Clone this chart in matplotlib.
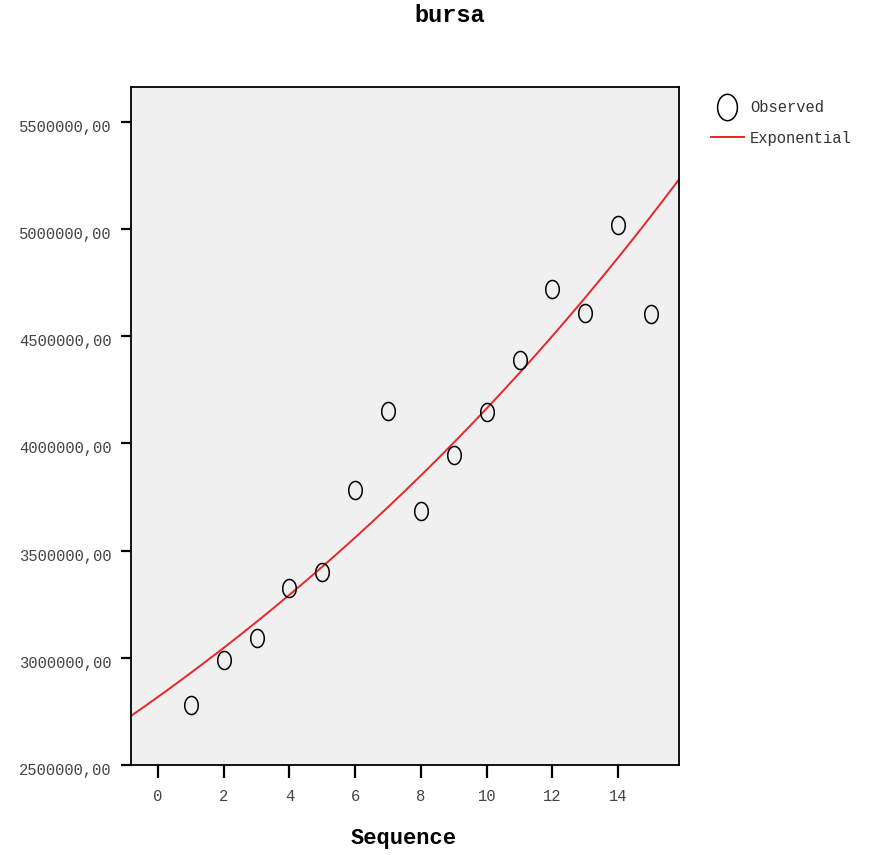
import numpy as np
import matplotlib.pyplot as plt
import matplotlib.transforms as mtransforms
from matplotlib.path import Path
from matplotlib.lines import Line2D

# observed series
seq = np.arange(1, 16)
bursa = np.array([2780000, 2990000, 3092000, 3326000, 3400000, 3783000, 4151000,
                  3685000, 3946000, 4147000, 4389000, 4720000, 4608000, 5019000,
                  4604000])

xticks = [0, 2, 4, 6, 8, 10, 12, 14]
yticks = [2500000, 3000000, 3500000, 4000000, 4500000, 5000000, 5500000]

MONO = 'Liberation Mono'

# exponential model: ln(y) = ln(b0) + b1 * t
b1, lnb0 = np.polyfit(seq, np.log(bursa), 1)
tt = np.linspace(-0.82, 15.85, 300)
fit = np.exp(lnb0) * np.exp(b1 * tt)

# tall open ellipse marker
th = np.linspace(0, 2 * np.pi, 60)
ellipse = Path(np.column_stack([0.75 * np.cos(th), np.sin(th)]), closed=True)

fig = plt.figure(figsize=(8.78, 8.55), dpi=100)
ax = fig.add_axes([131 / 878, 90 / 855, 548 / 878, 678 / 855])
ax.set_facecolor('#f0f0f0')

ax.plot(tt, fit, color='#e8262a', lw=1.4, zorder=2)
ax.plot(seq, bursa, ls='none', marker=ellipse, ms=13, mfc='none', mec='black',
        mew=1.1, zorder=3)

ax.set_xlim(-0.82, 15.85)
ax.set_ylim(2500000, 5663000)
ax.set_xticks(xticks)
ax.set_yticks(yticks)
ax.set_yticklabels(['%d,00' % v for v in yticks])

for s in ax.spines.values():
    s.set_linewidth(1.3)
ax.tick_params(axis='y', length=7, width=1.6, pad=7, labelsize=11.2,
               labelcolor='#444444')
ax.tick_params(axis='x', length=9.5, width=1.6, pad=8, labelsize=11.2,
               labelcolor='#444444')
for lab in ax.get_xticklabels() + ax.get_yticklabels():
    lab.set_family(MONO)

# y labels sit a little below their ticks
shift = mtransforms.ScaledTranslation(0, -4 / 100, fig.dpi_scale_trans)
for lab in ax.get_yticklabels():
    lab.set_transform(lab.get_transform() + shift)

fig.text(450 / 878, 1 - 15 / 855, 'bursa', family=MONO, weight='bold',
         fontsize=17, ha='center', va='center')
fig.text(404 / 878, 1 - 838 / 855, 'Sequence', family=MONO, weight='bold',
         fontsize=15.8, ha='center', va='center')

handles = [
    Line2D([], [], ls='none', marker=ellipse, ms=19, mfc='none', mec='black',
           mew=1.1),
    Line2D([], [], color='#e8262a', lw=1.4),
]
fig.legend(handles, ['Observed', 'Exponential'], loc='upper left',
           bbox_to_anchor=(697 / 878, 1 - 86 / 855), frameon=False,
           prop={'family': MONO, 'size': 11.2}, handlelength=2.1,
           handletextpad=0.4, labelspacing=1.0, labelcolor='#333333')

fig.savefig('out.png', dpi=100)
